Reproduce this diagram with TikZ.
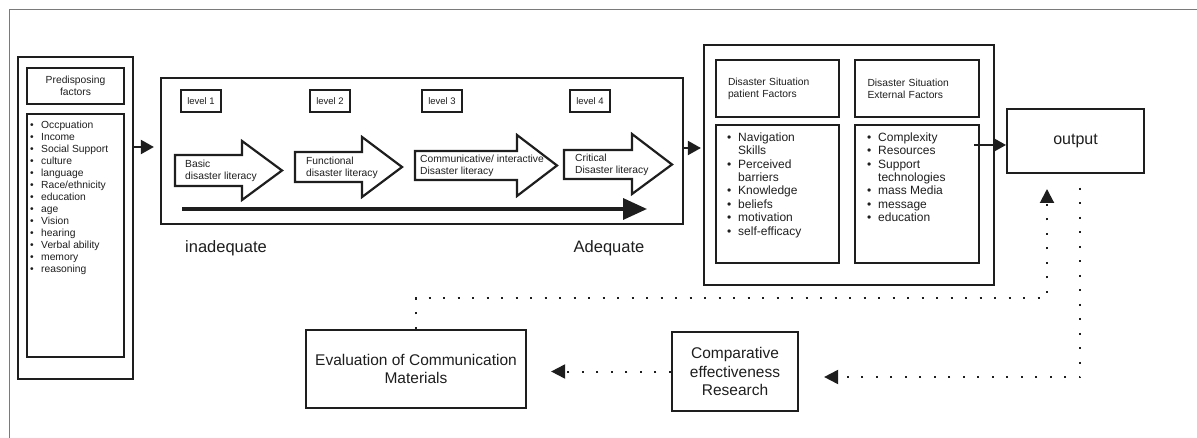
\documentclass[tikz,border=0pt]{standalone}
\usepackage{fontspec}
\setmainfont{Liberation Sans}
\usetikzlibrary{arrows.meta,calc}
\definecolor{ink}{HTML}{1E1E1E}
\definecolor{frameline}{HTML}{7A7A7A}
\newcommand{\dotitem}[1]{\makebox[11pt][l]{\textbullet}#1}
\newcommand{\dotmore}[1]{\hspace*{11pt}#1}

\begin{document}
\begin{tikzpicture}[
  x=1pt, y=-1pt, ink,
  font=\fontsize{10.3}{12}\selectfont,
  box/.style={draw=ink, line width=2.2pt, inner sep=0pt},
  lvl/.style={draw=ink, line width=2pt, minimum width=40pt, minimum height=22pt,
              inner sep=0pt, font=\fontsize{9.5}{11}\selectfont},
  head/.style={box, align=left, text width=99pt, minimum height=57pt},
  bigarrow/.style={draw=ink, line width=2.2pt, fill=white, line join=miter},
  arrowtext/.style={anchor=west, align=left, inner sep=0pt},
  flow/.style={-{Triangle[length=13pt,width=14pt]}, draw=ink, line width=2pt},
  loop/.style={draw=ink, line width=2pt, dash pattern=on 2pt off 12.5pt,
               -{Triangle[length=14pt,width=14pt]}},
  items/.style={anchor=north west, inner sep=0pt, align=left},
  big/.style={font=\fontsize{15.5}{18.5}\selectfont, align=center},
]
\useasboundingbox (0,0) rectangle (1197,438);
\draw[frameline, line width=1pt] (9,438) |- (1197,10);

% ---- predisposing factors ---------------------------------------------------
\node[box, minimum width=115pt, minimum height=322pt] (pred) at (75.5,218) {};
\node[box, minimum width=97pt, minimum height=36pt, align=center] (predhead) at (75.5,86)
  {Predisposing\\factors};
\node[box, minimum width=97pt, minimum height=243pt] (predlist) at (75.5,235.5) {};
\node[items] (predtxt) at (30,121)
  {\dotitem{Occpuation}\\ \dotitem{Income}\\ \dotitem{Social Support}\\
   \dotitem{culture}\\ \dotitem{language}\\ \dotitem{Race/ethnicity}\\
   \dotitem{education}\\ \dotitem{age}\\ \dotitem{Vision}\\ \dotitem{hearing}\\
   \dotitem{Verbal ability}\\ \dotitem{memory}\\ \dotitem{reasoning}};

% ---- levels of disaster literacy --------------------------------------------
\node[box, minimum width=522pt, minimum height=146pt] (lit) at (422,151) {};

\node[lvl] (lvone)   at (201,101) {level 1};
\node[lvl] (lvtwo)   at (330,101) {level 2};
\node[lvl] (lvthree) at (442,101) {level 3};
\node[lvl] (lvfour)  at (590,101) {level 4};

\draw[bigarrow] (175,155) -- (242,155) -- (242,141) -- (282,170.5) -- (242,200)
  -- (242,186) -- (175,186) -- cycle;
\draw[bigarrow] (295,152) -- (362,152) -- (362,137) -- (402,167) -- (362,197)
  -- (362,182) -- (295,182) -- cycle;
\draw[bigarrow] (415,151) -- (517,151) -- (517,135) -- (557,165.5) -- (517,196)
  -- (517,180) -- (415,180) -- cycle;
\draw[bigarrow] (564,150) -- (632,150) -- (632,134) -- (672,164.5) -- (632,194)
  -- (632,179) -- (564,179) -- cycle;

\node[arrowtext] (basic)  at (185,171)   {Basic\\disaster literacy};
\node[arrowtext] (func)   at (306,167.5) {Functional\\disaster literacy};
\node[arrowtext] (comm)   at (420,165.5) {Communicative/ interactive\\Disaster literacy};
\node[arrowtext] (crit)   at (575,165)   {Critical\\Disaster literacy};

\coordinate (scalelo) at (182,209);
\coordinate (scalehi) at (647,209);
\draw[draw=ink, line width=3.5pt, -{Triangle[length=24pt,width=21pt]}] (scalelo) -- (scalehi);

\node[font=\fontsize{16.5}{19}\selectfont] (low)  at (226,248) {inadequate};
\node[font=\fontsize{16.5}{19}\selectfont] (high) at (609,248) {Adequate};

% ---- disaster situation -----------------------------------------------------
\node[box, minimum width=290pt, minimum height=240pt] (sit) at (849,165) {};
\node[head, minimum width=123pt] (pathead) at (777.5,88.5)
  {Disaster Situation\\patient Factors};
\node[head, minimum width=124pt] (exthead) at (917,88.5)
  {Disaster Situation\\External Factors};
\node[box, minimum width=123pt, minimum height=138pt] (patlist) at (777.5,194) {};
\node[box, minimum width=124pt, minimum height=138pt] (extlist) at (917,194) {};

\node[items, font=\fontsize{12}{13.4}\selectfont] (pattxt) at (727,132.5)
  {\dotitem{Navigation}\\ \dotmore{Skills}\\ \dotitem{Perceived}\\ \dotmore{barriers}\\
   \dotitem{Knowledge}\\ \dotitem{beliefs}\\ \dotitem{motivation}\\ \dotitem{self-efficacy}};
\node[items, font=\fontsize{12}{13.4}\selectfont] (exttxt) at (867,132.5)
  {\dotitem{Complexity}\\ \dotitem{Resources}\\ \dotitem{Support}\\ \dotmore{technologies}\\
   \dotitem{mass Media}\\ \dotitem{message}\\ \dotitem{education}};

% ---- output and feedback ----------------------------------------------------
\node[box, line width=2pt, minimum width=137pt, minimum height=64pt,
      font=\fontsize{16}{19}\selectfont] (output) at (1075.5,141) {output};
\node[box, minimum width=220pt, minimum height=78pt, big] (eval) at (416,369)
  {Evaluation of Communication\\Materials};
\node[box, minimum width=126pt, minimum height=79pt, big] (comp) at (735,371.5)
  {Comparative\\effectiveness\\Research};

% links between the blocks
\coordinate (litin)  at ([yshift=4pt]lit.west);
\coordinate (litout) at ([yshift=3pt]lit.east);
\coordinate (outin)  at ([yshift=-4pt]output.west);
\coordinate (extout) at ([xshift=-6pt]extlist.east);
\draw[flow, shorten >=6pt] (pred.east |- litin) -- (litin);
\draw[flow, shorten >=2pt] (litout) -- (litout -| sit.west);
\draw[flow] (extout |- outin) -- (outin);

% dotted feedback loop
\coordinate (turnA) at (1047,298);
\coordinate (turnB) at (1080,377);
\draw[loop, shorten >=15pt] (eval.north) |- (turnA) -- (turnA |- output.south);
\draw[loop, shorten <=14pt, shorten >=25pt] (output.south -| turnB) -- (turnB)
  -- (turnB -| comp.east);
\draw[loop, shorten >=24pt] (comp.west) -- (comp.west -| eval.east);

\end{tikzpicture}
\end{document}
